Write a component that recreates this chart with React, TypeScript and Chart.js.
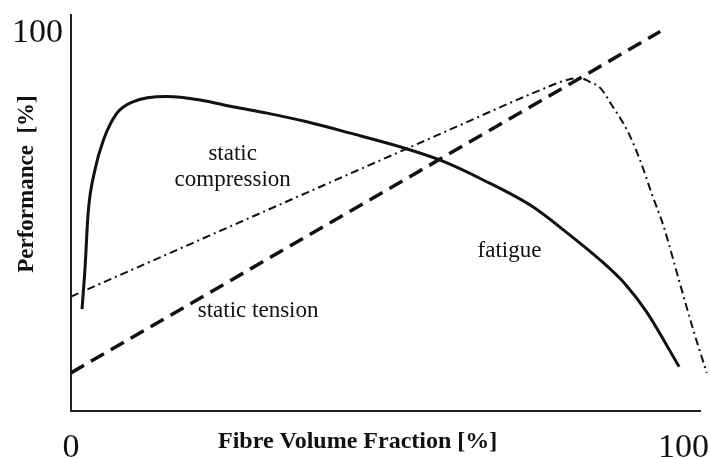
import React, { useEffect, useRef } from "react";
import { Chart, registerables } from "chart.js";

Chart.register(...registerables);

// ---- data (percent units) ----
const xTickValues = [0, 100];
const yTickValues = [100];

const fatigueX = [1.8, 2.3, 2.8, 3.9, 5.3, 7.5, 10.1, 15.6, 21.1, 26.4, 32.0, 38.5, 45.6, 53.7, 60.2, 67.3, 75.4, 81.0, 86.4, 90.5, 94.0, 99.3];
const fatigueY = [27.0, 38.1, 52.5, 63.8, 71.8, 78.9, 81.9, 83.3, 82.4, 80.6, 78.9, 76.6, 73.6, 70.0, 66.5, 61.2, 54.1, 47.2, 40.0, 33.6, 26.2, 11.7];

const compressionX = [0, 60.3, 76.6, 81.0, 83.1, 84.7, 86.4, 88.5, 90.8, 92.9, 94.9, 96.7, 99.4, 101.6, 103.8];
const compressionY = [30.3, 73.4, 85.0, 87.7, 88.2, 87.2, 85.6, 80.5, 74.4, 66.5, 57.2, 49.2, 33.9, 21.5, 10.1];

const tensionX = [0, 96.2];
const tensionY = [10.1, 100.5];

const annotationTexts = ["static", "compression", "fatigue", "static tension"];
const annotationX = [26.4, 26.4, 71.6, 20.7];
const annotationY = [66.5, 59.6, 40.8, 24.9];
const annotationAlign: CanvasTextAlign[] = ["center", "center", "center", "left"];

const xTitle = "Fibre Volume Fraction [%]";
const yTitle = "Performance  [%]";

const X_MAX = 102.7;
const Y_MAX = 104.9;

const SERIF = '"Liberation Serif", "Times New Roman", serif';
const INK = "#111111";

const toPoints = (xs: number[], ys: number[]) => xs.map((x, i) => ({ x, y: ys[i] }));

const textPlugin = {
  id: "textOverlay",
  afterDraw(chart: any) {
    const { ctx, chartArea, scales } = chart;
    ctx.save();
    ctx.fillStyle = INK;
    ctx.textBaseline = "alphabetic";
    ctx.font = `23px ${SERIF}`;
    annotationTexts.forEach((t, i) => {
      ctx.textAlign = annotationAlign[i];
      ctx.fillText(t, scales.x.getPixelForValue(annotationX[i]), scales.y.getPixelForValue(annotationY[i]));
    });
    ctx.font = `bold 24px ${SERIF}`;
    ctx.textAlign = "left";
    ctx.fillText(xTitle, chartArea.left + 147, chartArea.bottom + 37);
    ctx.translate(chartArea.left - 38, chartArea.top + 169);
    ctx.rotate(-Math.PI / 2);
    ctx.textAlign = "center";
    ctx.font = `bold 23px ${SERIF}`;
    ctx.fillText(yTitle, 0, 0);
    ctx.restore();
  },
};

export default function App() {
  const canvasRef = useRef<HTMLCanvasElement | null>(null);

  useEffect(() => {
    if (!canvasRef.current) return;
    const chart = new Chart(canvasRef.current, {
      type: "line",
      data: {
        datasets: [
          {
            label: "fatigue",
            data: toPoints(fatigueX, fatigueY),
            borderColor: INK,
            borderWidth: 3,
            pointRadius: 0,
            cubicInterpolationMode: "monotone",
            fill: false,
          },
          {
            label: "static compression",
            data: toPoints(compressionX, compressionY),
            borderColor: INK,
            borderWidth: 2,
            borderDash: [8, 4, 2, 4],
            pointRadius: 0,
            cubicInterpolationMode: "monotone",
            fill: false,
            clip: false,
          },
          {
            label: "static tension",
            data: toPoints(tensionX, tensionY),
            borderColor: INK,
            borderWidth: 3.5,
            borderDash: [15, 8],
            pointRadius: 0,
            fill: false,
            clip: false,
          },
        ] as any,
      },
      options: {
        animation: false,
        responsive: true,
        maintainAspectRatio: false,
        layout: { padding: { top: 15, right: 10, left: 0, bottom: 0 } },
        plugins: { legend: { display: false }, tooltip: { enabled: false } },
        scales: {
          x: {
            type: "linear",
            min: 0,
            max: X_MAX,
            grid: { display: false, drawTicks: false },
            border: { display: true, color: "#222222", width: 2 },
            ticks: {
              autoSkip: false,
              maxRotation: 0,
              padding: 17,
              color: INK,
              font: { family: SERIF, size: 34 },
            },
            afterBuildTicks: (scale: any) => {
              scale.ticks = xTickValues.map((v) => ({ value: v }));
            },
            afterFit: (scale: any) => {
              scale.height = 48;
              scale.paddingLeft = 0;
              scale.paddingRight = 0;
            },
          },
          y: {
            type: "linear",
            min: 0,
            max: Y_MAX,
            grid: { display: false, drawTicks: false },
            border: { display: true, color: "#222222", width: 2 },
            ticks: {
              autoSkip: false,
              padding: 8,
              color: INK,
              font: { family: SERIF, size: 34 },
            },
            afterBuildTicks: (scale: any) => {
              scale.ticks = yTickValues.map((v) => ({ value: v }));
            },
            afterFit: (scale: any) => {
              scale.width = 71;
              scale.paddingTop = 0;
              scale.paddingBottom = 0;
            },
          },
        },
      },
      plugins: [textPlugin],
    });
    return () => chart.destroy();
  }, []);

  return (
    <div style={{ position: "fixed", left: 0, top: 0, width: 710, height: 459, background: "#ffffff" }}>
      <canvas ref={canvasRef} />
    </div>
  );
}
